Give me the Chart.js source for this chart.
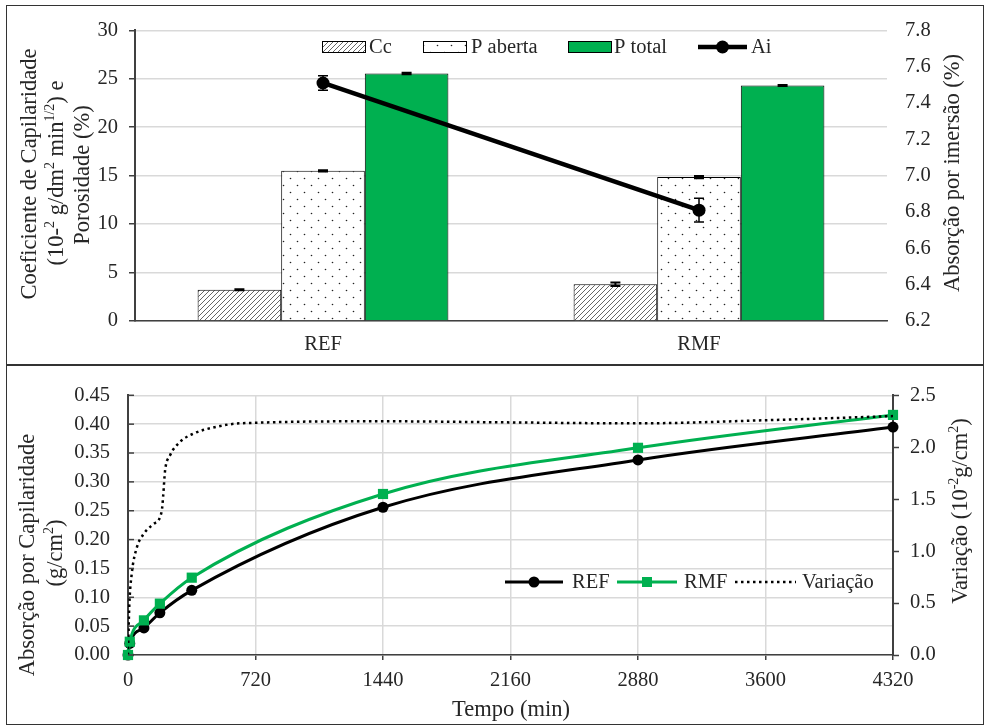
<!DOCTYPE html>
<html><head><meta charset="utf-8">
<script src="https://cdn.jsdelivr.net/npm/chart.js@4.4.1/dist/chart.umd.min.js"></script>
<style>
html,body{margin:0;padding:0;background:#fff;}
#wrap{position:relative;width:986px;height:726px;overflow:hidden;background:#fff}
canvas{position:absolute;left:0}
#c1{top:0}
#c2{top:365px}
.frame{position:absolute;border:1px solid #333;pointer-events:none}
</style></head><body>
<div id="wrap">
<canvas id="c1" width="986" height="365"></canvas>
<canvas id="c2" width="986" height="361"></canvas>
<div class="frame" style="left:6px;top:5px;width:976px;height:359px"></div>
<div class="frame" style="left:6px;top:364px;width:976px;height:359px"></div>
</div>
<script>
// ---------- DATA (top chart) ----------
const categories = ['REF', 'RMF'];
const cc = [3.23, 3.80];
const ccErr = [0.05, 0.18];
const pAberta = [15.50, 14.85];
const pAbertaErr = [0.06, 0.12];
const pTotal = [25.55, 24.30];
const pTotalErr = [0.08, 0.06];
const ai = [7.51, 6.81];
const aiErr = [0.04, 0.065];

// ---------- DATA (bottom chart) ----------
const time = [0, 10, 90, 180, 360, 1440, 2880, 4320];
const absREF = [0.000, 0.020, 0.047, 0.073, 0.112, 0.256, 0.338, 0.395];
const absRMF = [0.000, 0.023, 0.060, 0.089, 0.134, 0.279, 0.359, 0.416];
const varTime = [0, 7, 21, 49, 86, 143, 190, 199, 209, 237, 293, 368, 481, 632, 1440, 2100, 2880, 3600, 4320];
const varVal  = [0, 0.46, 0.78, 1.03, 1.16, 1.26, 1.38, 1.54, 1.77, 1.92, 2.05, 2.13, 2.19, 2.23, 2.25, 2.24, 2.23, 2.26, 2.30];

const FONT = "'Liberation Serif', 'Times New Roman', serif";
const TXT = '#262626';
const AX = '#404040';
const GRID = '#d9d9d9';
const GREEN = '#00B050';
const TICK_SIZE = 20.5;
const TITLE_SIZE = 22.5;

Chart.defaults.font.family = FONT;
Chart.defaults.font.size = TICK_SIZE;
Chart.defaults.color = TXT;

function makeHatch(ctx) {
  const c = document.createElement('canvas'); c.width = 5; c.height = 5;
  const g = c.getContext('2d');
  g.fillStyle = '#fff'; g.fillRect(0, 0, 5, 5);
  g.strokeStyle = '#555'; g.lineWidth = 0.9;
  g.beginPath();
  g.moveTo(-1, 6); g.lineTo(6, -1);
  g.moveTo(-1, 1); g.lineTo(1, -1);
  g.moveTo(4, 6); g.lineTo(6, 4);
  g.stroke();
  return ctx.createPattern(c, 'repeat');
}
function makeDots(ctx) {
  const c = document.createElement('canvas'); c.width = 14; c.height = 14;
  const g = c.getContext('2d');
  g.fillStyle = '#fff'; g.fillRect(0, 0, 14, 14);
  g.fillStyle = '#222';
  g.beginPath(); g.arc(3.5, 3.5, 0.8, 0, Math.PI * 2); g.fill();
  g.beginPath(); g.arc(10.5, 10.5, 0.8, 0, Math.PI * 2); g.fill();
  return ctx.createPattern(c, 'repeat');
}

function drawRich(ctx, segs, cx, cy, rot, size) {
  ctx.save();
  ctx.translate(cx, cy);
  ctx.rotate(rot);
  ctx.fillStyle = TXT;
  ctx.textBaseline = 'middle';
  ctx.textAlign = 'left';
  let total = 0;
  const parts = segs.map(s => {
    const sz = s.sup ? size * 0.62 : size;
    ctx.font = sz + 'px ' + FONT;
    const w = ctx.measureText(s.t).width;
    total += w;
    return { t: s.t, sz, w, sup: s.sup };
  });
  let x = -total / 2;
  parts.forEach(p => {
    ctx.font = p.sz + 'px ' + FONT;
    ctx.fillText(p.t, x, p.sup ? -size * 0.28 : 0);
    x += p.w;
  });
  ctx.restore();
}

// ---------- TOP CHART ----------
const ctx1 = document.getElementById('c1').getContext('2d');
const hatch = makeHatch(ctx1);
const dots = makeDots(ctx1);

const topPlugin = {
  id: 'topExtras',
  afterDatasetsDraw(chart) {
    const ctx = chart.ctx;
    ctx.save();
    chart.data.datasets.forEach((ds, di) => {
      const meta = chart.getDatasetMeta(di);
      const sc = chart.scales[meta.yAxisID];
      const isLine = ds.type === 'line';
      meta.data.forEach((el, i) => {
        const v = ds.data[i], e = ds.errors[i];
        const y1 = sc.getPixelForValue(v + e), y2 = sc.getPixelForValue(v - e);
        const x = el.x, hw = 5;
        ctx.strokeStyle = '#000';
        ctx.lineWidth = isLine ? 1.5 : 2;
        ctx.beginPath();
        ctx.moveTo(x, y1); ctx.lineTo(x, y2);
        ctx.moveTo(x - hw, y1); ctx.lineTo(x + hw, y1);
        ctx.moveTo(x - hw, y2); ctx.lineTo(x + hw, y2);
        ctx.stroke();
      });
    });
    ctx.restore();
  },
  afterDraw(chart) {
    const ctx = chart.ctx;
    drawRich(ctx, [{ t: 'Coeficiente de Capilaridade' }], 30, 174, -Math.PI / 2, TITLE_SIZE);
    drawRich(ctx, [{ t: '(10-' }, { t: '2', sup: true }, { t: ' g/dm' }, { t: '2', sup: true }, { t: ' min' }, { t: '1/2', sup: true }, { t: ') e' }], 57, 173, -Math.PI / 2, TITLE_SIZE);
    drawRich(ctx, [{ t: 'Porosidade (%)' }], 83, 175, -Math.PI / 2, TITLE_SIZE);
    drawRich(ctx, [{ t: 'Absorção por imersão (%)' }], 953, 173, -Math.PI / 2, TITLE_SIZE);
    const ds = chart.data.datasets;
    const ly = 47;
    ctx.save();
    ctx.font = TICK_SIZE + 'px ' + FONT;
    ctx.textBaseline = 'middle';
    const boxes = [[322, 0, 369], [423, 1, 471], [568, 2, 614]];
    boxes.forEach(([bx, di, tx]) => {
      ctx.fillStyle = ds[di].backgroundColor;
      ctx.fillRect(bx, ly - 5.5, 43, 11);
      ctx.strokeStyle = '#000'; ctx.lineWidth = 1;
      ctx.strokeRect(bx + 0.5, ly - 5.5, 43, 11);
      ctx.fillStyle = TXT;
      ctx.fillText(ds[di].label, tx, ly + 1);
    });
    ctx.strokeStyle = '#000'; ctx.lineWidth = 4.5;
    ctx.beginPath(); ctx.moveTo(698, ly); ctx.lineTo(747, ly); ctx.stroke();
    ctx.fillStyle = '#000';
    ctx.beginPath(); ctx.arc(722.5, ly, 6.5, 0, Math.PI * 2); ctx.fill();
    ctx.fillStyle = TXT;
    ctx.fillText(ds[3].label, 751, ly + 1);
    ctx.restore();
  }
};

new Chart(ctx1, {
  type: 'bar',
  data: {
    labels: categories,
    datasets: [
      { label: 'Cc', data: cc, errors: ccErr, backgroundColor: hatch, borderColor: '#000', borderWidth: 1, order: 2, yAxisID: 'y' },
      { label: 'P aberta', data: pAberta, errors: pAbertaErr, backgroundColor: dots, borderColor: '#000', borderWidth: 1, order: 2, yAxisID: 'y' },
      { label: 'P total', data: pTotal, errors: pTotalErr, backgroundColor: GREEN, borderColor: '#000', borderWidth: 1, order: 2, yAxisID: 'y' },
      { type: 'line', label: 'Ai', data: ai, errors: aiErr, yAxisID: 'y1', borderColor: '#000', borderWidth: 4.5,
        pointRadius: 6.5, pointBackgroundColor: '#000', pointBorderColor: '#000', pointBorderWidth: 0, order: 0, clip: false }
    ]
  },
  options: {
    responsive: false, animation: false, devicePixelRatio: 1,
    layout: { padding: { top: 24, left: 0, right: 0, bottom: 0 } },
    datasets: { bar: { categoryPercentage: 0.667, barPercentage: 1.0, borderSkipped: 'start' } },
    plugins: { legend: { display: false }, tooltip: { enabled: false } },
    scales: {
      x: {
        grid: { display: false, drawTicks: false },
        border: { color: AX, width: 1.5 },
        ticks: { color: TXT, padding: 11, font: { size: TICK_SIZE } },
        afterFit(s) { s.height = 44; }
      },
      y: {
        min: 0, max: 30,
        ticks: { stepSize: 5, color: TXT, padding: 11, font: { size: TICK_SIZE } },
        grid: { color: GRID, lineWidth: 1.5, tickColor: AX, tickLength: 6, tickWidth: 1.5 },
        border: { color: AX, width: 2 },
        afterFit(s) { s.width = 135; }
      },
      y1: {
        position: 'right', min: 6.2, max: 7.8,
        ticks: { stepSize: 0.2, color: TXT, padding: 18, font: { size: TICK_SIZE }, callback: v => Number(v).toFixed(1) },
        grid: { display: false, drawTicks: false },
        border: { display: false },
        afterFit(s) { s.width = 99; }
      }
    }
  },
  plugins: [topPlugin]
});

// ---------- BOTTOM CHART ----------
const ctx2 = document.getElementById('c2').getContext('2d');
const botPlugin = {
  id: 'botExtras',
  afterDraw(chart) {
    const ctx = chart.ctx;
    const ys = chart.scales.y;
    const left = chart.chartArea.left;
    ctx.save();
    ctx.strokeStyle = AX; ctx.lineWidth = 1.5;
    ys.ticks.forEach(t => {
      const y = ys.getPixelForValue(t.value);
      ctx.beginPath(); ctx.moveTo(left, y); ctx.lineTo(left + 6, y); ctx.stroke();
    });
    ctx.restore();
    drawRich(ctx, [{ t: 'Absorção por Capilaridade' }], 28, 190, -Math.PI / 2, TITLE_SIZE);
    drawRich(ctx, [{ t: '(g/cm' }, { t: '2', sup: true }, { t: ')' }], 56, 188, -Math.PI / 2, TITLE_SIZE);
    drawRich(ctx, [{ t: 'Variação (10' }, { t: '-2', sup: true }, { t: 'g/cm' }, { t: '2', sup: true }, { t: ')' }], 961, 146, -Math.PI / 2, TITLE_SIZE);
    drawRich(ctx, [{ t: 'Tempo (min)' }], 511, 345, 0, TITLE_SIZE);
    const ds = chart.data.datasets;
    const ly = 217;
    ctx.save();
    ctx.font = TICK_SIZE + 'px ' + FONT;
    ctx.textBaseline = 'middle';
    ctx.strokeStyle = '#000'; ctx.lineWidth = 3;
    ctx.beginPath(); ctx.moveTo(505, ly); ctx.lineTo(563, ly); ctx.stroke();
    ctx.fillStyle = '#000';
    ctx.beginPath(); ctx.arc(534, ly, 5.5, 0, Math.PI * 2); ctx.fill();
    ctx.fillStyle = TXT; ctx.fillText(ds[0].label, 572, ly + 1);
    ctx.strokeStyle = GREEN; ctx.lineWidth = 3;
    ctx.beginPath(); ctx.moveTo(617, ly); ctx.lineTo(677, ly); ctx.stroke();
    ctx.fillStyle = GREEN; ctx.fillRect(642, ly - 5, 10, 10);
    ctx.fillStyle = TXT; ctx.fillText(ds[1].label, 684, ly + 1);
    ctx.strokeStyle = '#000'; ctx.lineWidth = 2.5; ctx.setLineDash([2.5, 3.5]);
    ctx.beginPath(); ctx.moveTo(735, ly); ctx.lineTo(796, ly); ctx.stroke();
    ctx.setLineDash([]);
    ctx.fillStyle = TXT; ctx.fillText(ds[2].label, 802, ly + 1);
    ctx.restore();
  }
};

new Chart(ctx2, {
  type: 'line',
  data: {
    datasets: [
      { label: 'REF', data: time.map((t, i) => ({ x: t, y: absREF[i] })), yAxisID: 'y',
        borderColor: '#000', backgroundColor: '#000', borderWidth: 3, pointRadius: 5.5, pointStyle: 'circle',
        pointBorderWidth: 0, cubicInterpolationMode: 'monotone', order: 2, clip: false },
      { label: 'RMF', data: time.map((t, i) => ({ x: t, y: absRMF[i] })), yAxisID: 'y',
        borderColor: GREEN, backgroundColor: GREEN, borderWidth: 3, pointRadius: 7.2, pointStyle: 'rect',
        pointBorderWidth: 0, cubicInterpolationMode: 'monotone', order: 1, clip: false },
      { label: 'Variação', data: varTime.map((t, i) => ({ x: t, y: varVal[i] })), yAxisID: 'y1',
        borderColor: '#000', borderWidth: 2.5, borderDash: [2.5, 3.5], pointRadius: 0,
        cubicInterpolationMode: 'monotone', order: 0, fill: false }
    ]
  },
  options: {
    responsive: false, animation: false, devicePixelRatio: 1,
    layout: { padding: { top: 28, left: 0, right: 0, bottom: 0 } },
    plugins: { legend: { display: false }, tooltip: { enabled: false } },
    scales: {
      x: {
        type: 'linear', min: 0, max: 4320,
        ticks: { stepSize: 720, color: TXT, padding: 8, font: { size: TICK_SIZE }, callback: v => String(Math.round(v)) },
        grid: { color: GRID, lineWidth: 1.5, tickColor: AX, tickLength: 5, tickWidth: 1.5 },
        border: { color: AX, width: 1.5 },
        afterFit(s) { s.height = 71; }
      },
      y: {
        min: 0, max: 0.45,
        ticks: { stepSize: 0.05, color: TXT, padding: 18, font: { size: TICK_SIZE }, callback: v => Number(v).toFixed(2) },
        grid: { color: GRID, lineWidth: 1.5, drawTicks: false },
        border: { color: AX, width: 2 },
        afterFit(s) { s.width = 128; }
      },
      y1: {
        position: 'right', min: 0, max: 2.5,
        ticks: { stepSize: 0.5, color: TXT, padding: 11, font: { size: TICK_SIZE }, callback: v => Number(v).toFixed(1) },
        grid: { drawOnChartArea: false, tickColor: AX, tickLength: 6, tickWidth: 1.5 },
        border: { color: AX, width: 2 },
        afterFit(s) { s.width = 93; }
      }
    }
  },
  plugins: [botPlugin]
});
</script>
</body></html>
